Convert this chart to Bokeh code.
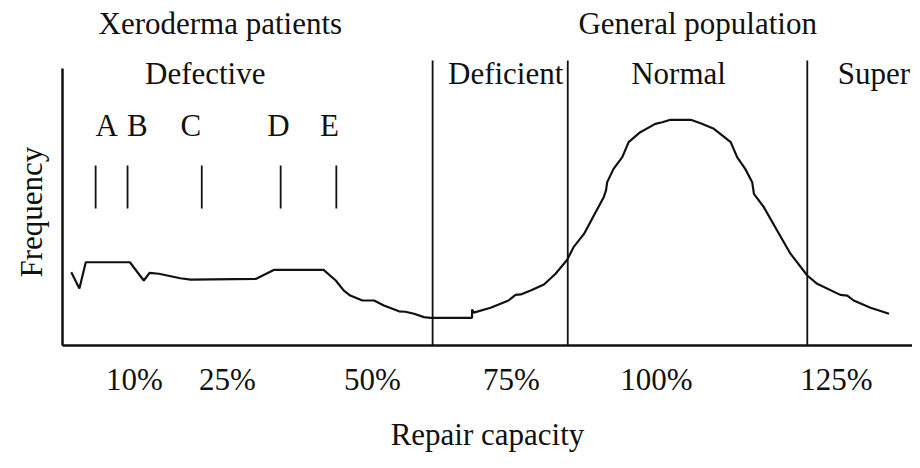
from bokeh.plotting import figure
from bokeh.models import Range1d, FixedTicker, ColumnDataSource, Title
from bokeh.core.properties import value
from bokeh.embed import file_html
from bokeh.resources import INLINE

# ---- data (repair capacity in %, frequency in arbitrary units) ----
capacity = [-0.9, 0.5, 1.6, 9.2, 11.6, 12.6, 14.2, 17.9, 19.7, 30.9, 34.0, 42.6,
            44.7, 46.1, 47.2, 49.3, 51.3, 53.0, 55.6, 56.7, 58.2, 59.9, 61.0,
            68.2, 68.2, 68.5, 71.4, 74.5, 75.7, 76.6, 78.3, 80.6, 82.6, 84.6,
            85.7, 87.5, 89.2, 90.9, 91.3, 91.5, 92.6, 94.1, 95.2, 97.2, 99.8,
            101.0, 102.4, 105.9, 107.6, 109.9, 112.8, 113.9, 115.3, 116.5, 116.8,
            118.5, 120.8, 123.1, 126.0, 127.7, 131.7, 132.9, 134.0, 136.9, 140.1]
frequency = [32.6, 25.3, 37.0, 37.0, 28.9, 32.3, 31.9, 29.9, 29.3, 29.6, 33.6, 33.6,
             28.9, 24.4, 22.2, 20.0, 20.0, 17.8, 15.2, 15.0, 14.1, 12.6, 12.3,
             12.3, 16.0, 14.6, 16.8, 20.0, 22.5, 22.7, 24.4, 27.1, 31.9, 38.1,
             43.7, 49.6, 57.8, 65.9, 68.9, 72.6, 78.5, 83.7, 90.4, 94.8, 98.5,
             99.2, 100.3, 100.3, 98.8, 96.3, 90.4, 83.7, 78.5, 72.6, 67.4,
             61.5, 51.1, 40.8, 31.1, 27.4, 22.5, 22.2, 20.0, 16.8, 14.1]

group_labels = ["Xeroderma patients", "General population"]
group_x = [24.8, 107.1]
class_labels = ["Defective", "Deficient", "Normal", "Super"]
class_x = [22.2, 74.0, 103.8, 137.5]
class_bounds = [61.4, 84.7, 126.0]
patient_labels = ["A", "B", "C", "D", "E"]
patient_label_x = [5.2, 10.5, 19.7, 34.8, 43.6]
patient_x = [3.3, 8.8, 21.6, 35.2, 44.8]
tick_pos = [10, 26, 51, 75, 100, 131]
tick_labels = ["10%", "25%", "50%", "75%", "100%", "125%"]

FONT = "Liberation Serif"
FS = "31px"
INK = "#111111"

p = figure(width=912, height=460, output_backend="svg", toolbar_location=None,
           x_range=Range1d(-2.414, 144.14), y_range=Range1d(0, 153.33),
           min_border_left=62, min_border_right=0, min_border_top=0,
           min_border_bottom=115)
p.outline_line_color = None
p.grid.visible = False
p.background_fill_color = "white"
p.border_fill_color = "white"

# x axis
p.xaxis.ticker = FixedTicker(ticks=tick_pos)
p.xaxis.major_label_overrides = {t: l for t, l in zip(tick_pos, tick_labels)}
p.xaxis.major_tick_in = 0
p.xaxis.major_tick_out = 0
p.xaxis.minor_tick_in = 0
p.xaxis.minor_tick_out = 0
p.xaxis.major_label_text_font = FONT
p.xaxis.major_label_text_font_size = FS
p.xaxis.major_label_text_color = INK
p.xaxis.major_label_standoff = 16
p.xaxis.axis_line_width = 2.5
p.xaxis.axis_line_color = INK
p.xaxis.axis_label = "Repair capacity"
p.xaxis.axis_label_text_font = FONT
p.xaxis.axis_label_text_font_size = FS
p.xaxis.axis_label_text_font_style = "normal"
p.xaxis.axis_label_text_color = INK
p.xaxis.axis_label_standoff = 17

# y axis (line only; its title is placed as a side title)
p.yaxis.ticker = FixedTicker(ticks=[])
p.yaxis.major_tick_in = 0
p.yaxis.major_tick_out = 0
p.yaxis.minor_tick_in = 0
p.yaxis.minor_tick_out = 0
p.yaxis.major_label_text_font_size = "0px"
p.yaxis.major_label_standoff = 0
p.yaxis.axis_label_standoff = 0
p.yaxis.bounds = (0, 123)
p.yaxis.axis_line_width = 2.5
p.yaxis.axis_line_color = INK

p.add_layout(Title(text="Frequency", align="left", offset=68,
                   vertical_align="top",
                   text_font=FONT, text_font_size=FS, text_font_style="normal",
                   text_color=INK, standoff=24), "left")

# class boundaries
p.segment(x0=class_bounds, y0=[0] * len(class_bounds), x1=class_bounds,
          y1=[126.7] * len(class_bounds), line_color=INK, line_width=1.8)

# patient group markers
p.segment(x0=patient_x, y0=[60.9] * len(patient_x), x1=patient_x,
          y1=[80.0] * len(patient_x), line_color=INK, line_width=1.8)

# distribution curve
p.line(capacity, frequency, line_color=INK, line_width=2.2)

def add_text(xs, ys, texts):
    src = ColumnDataSource(dict(x=xs, y=ys, t=texts))
    p.text(x="x", y="y", text="t", source=src, text_font=value(FONT),
           text_font_size=FS, text_align="center", text_baseline="middle",
           text_color=INK)

add_text(group_x, [143.1] * len(group_x), group_labels)
add_text(class_x, [120.9] * len(class_x), class_labels)
add_text(patient_label_x, [97.8] * len(patient_label_x), patient_labels)

open("out.html", "w").write(file_html(p, INLINE))
